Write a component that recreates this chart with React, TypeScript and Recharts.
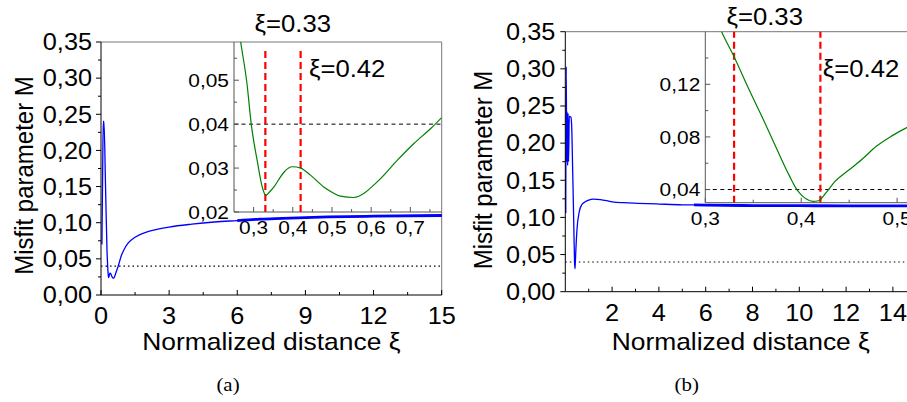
import React from 'react';
import { LineChart, Line, XAxis, YAxis, ReferenceLine } from 'recharts';

const SANS = '"Liberation Sans", Arial, Helvetica, sans-serif';
const SERIF = '"Liberation Serif", "Times New Roman", Times, serif';
const SX = 1.1; // horizontal stretch of the lettering in the reference

// ---------------- data: panel (a) ----------------
const mainXA = [0.04, 0.07, 0.1, 0.13, 0.2, 0.267, 0.294, 0.31, 0.331, 0.352, 0.378, 0.4, 0.42, 0.445, 0.48, 0.52, 0.556, 0.6, 0.667, 0.75, 0.9, 1.0, 1.2, 1.5, 2.0, 2.5, 3, 4, 5, 6, 7, 8, 10, 12, 15];
const mainMA = [0.07, 0.16, 0.24, 0.24, 0.15, 0.0587, 0.04, 0.031, 0.024, 0.0257, 0.0291, 0.0303, 0.03, 0.0284, 0.0256, 0.0237, 0.0233, 0.0256, 0.0318, 0.039, 0.055, 0.062, 0.072, 0.08, 0.087, 0.091, 0.094, 0.098, 0.101, 0.103, 0.105, 0.106, 0.108, 0.109, 0.11];
const insetXA = [0.255, 0.267, 0.283, 0.294, 0.309, 0.322, 0.331, 0.34, 0.352, 0.365, 0.378, 0.399, 0.42, 0.445, 0.479, 0.5, 0.522, 0.556, 0.581, 0.6, 0.624, 0.667, 0.709, 0.752, 0.78];
const insetMA = [0.066, 0.0587, 0.0493, 0.04, 0.0318, 0.0257, 0.0238, 0.0245, 0.0257, 0.0275, 0.0291, 0.0303, 0.03, 0.0284, 0.0257, 0.0245, 0.0236, 0.0233, 0.0242, 0.0256, 0.0276, 0.0318, 0.0356, 0.039, 0.0415];
const thickFromA = 5.8;

// ---------------- data: panel (b) ----------------
const mainXB = [0.02, 0.04, 0.06, 0.08, 0.1, 0.12, 0.14, 0.17, 0.24, 0.27, 0.317, 0.33, 0.36, 0.395, 0.412, 0.426, 0.45, 0.5, 0.6, 0.7, 0.85, 1.0, 1.2, 1.5, 2.0, 2.5, 3.1, 4, 5, 5.5, 6, 8, 10, 12, 15];
const mainMB = [0.106, 0.303, 0.175, 0.242, 0.17, 0.24, 0.175, 0.236, 0.235, 0.225, 0.16, 0.141, 0.094, 0.04, 0.031, 0.0376, 0.055, 0.084, 0.108, 0.117, 0.121, 0.1234, 0.1246, 0.124, 0.121, 0.1198, 0.119, 0.118, 0.117, 0.1168, 0.1165, 0.116, 0.1158, 0.1156, 0.1155];
const insetXB = [0.31, 0.317, 0.33, 0.345, 0.36, 0.375, 0.388, 0.395, 0.4, 0.405, 0.412, 0.418, 0.426, 0.435, 0.45, 0.465, 0.478, 0.495, 0.509, 0.525];
const insetMB = [0.172, 0.16, 0.141, 0.117, 0.094, 0.07, 0.05, 0.0405, 0.036, 0.033, 0.031, 0.0315, 0.0376, 0.046, 0.055, 0.064, 0.0727, 0.081, 0.0867, 0.092];
const thickFromB = 5.5;

// ---------------- shared ----------------
const criterion = 0.04;
const xiMarks = [0.33, 0.42];
const xiLabels = ['ξ=0.33', 'ξ=0.42'];

const mainYTicks = [0, 0.025, 0.05, 0.075, 0.1, 0.125, 0.15, 0.175, 0.2, 0.225, 0.25, 0.275, 0.3, 0.325, 0.35];
const mainYLabels = [0, 0.05, 0.1, 0.15, 0.2, 0.25, 0.3, 0.35];
const mainXTicksA = [0, 1.5, 3, 4.5, 6, 7.5, 9, 10.5, 12, 13.5, 15];
const mainXLabelsA = [0, 3, 6, 9, 12, 15];
const mainXTicksB = [1, 2, 3, 4, 5, 6, 7, 8, 9, 10, 11, 12, 13, 14, 15];
const mainXLabelsB = [2, 4, 6, 8, 10, 12, 14];
const insetYTicksA = [0.02, 0.025, 0.03, 0.035, 0.04, 0.045, 0.05, 0.055];
const insetYLabelsA = [0.02, 0.03, 0.04, 0.05];
const insetXTicksA = [0.3, 0.35, 0.4, 0.45, 0.5, 0.55, 0.6, 0.65, 0.7, 0.75];
const insetXLabelsA = [0.3, 0.4, 0.5, 0.6, 0.7];
const insetYTicksB = [0.04, 0.06, 0.08, 0.1, 0.12, 0.14];
const insetYLabelsB = [0.04, 0.08, 0.12];
const insetXTicksB = [0.3, 0.35, 0.4, 0.45, 0.5];
const insetXLabelsB = [0.3, 0.4, 0.5];

const toRows = (xs: number[], ys: number[]) => xs.map((x, i) => ({ x, m: ys[i] }));

type STProps = {
  x: number;
  y: number;
  size: number;
  anchor?: string;
  family?: string;
  dy?: string;
  sx?: number;
  rotate?: number;
  children: any;
};

function ST(p: STProps) {
  const tr = `translate(${p.x} ${p.y}) scale(${p.sx ?? SX} 1)${p.rotate ? ` rotate(${p.rotate})` : ''}`;
  return (
    <text transform={tr} x={0} y={0} dy={p.dy} textAnchor={(p.anchor || 'start') as any} fontFamily={p.family || SANS} fontSize={p.size} fill="#000">
      {p.children}
    </text>
  );
}

type TickOpts = {
  axis: 'x' | 'y';
  labels: number[];
  digits: number;
  major: number;
  minor: number;
  inward: boolean;
  gap: number;
  fontSize: number;
  color: string;
};

function tickRenderer(o: TickOpts) {
  return (props: any) => {
    const { x, y, payload } = props;
    const v = Number(payload.value);
    const isMajor = o.labels.some((l) => Math.abs(l - v) < 1e-9);
    const len = isMajor ? o.major : o.minor;
    const txt = v.toFixed(o.digits).replace('.', ',');
    if (o.axis === 'x') {
      const y2 = o.inward ? y - len : y + len;
      return (
        <g>
          <line x1={x} y1={y} x2={x} y2={y2} stroke={o.color} strokeWidth={1} />
          {isMajor ? (
            <ST x={x} y={y + o.gap} dy="0.72em" anchor="middle" size={o.fontSize}>
              {txt}
            </ST>
          ) : null}
        </g>
      );
    }
    const x2 = o.inward ? x + len : x - len;
    return (
      <g>
        <line x1={x} y1={y} x2={x2} y2={y} stroke={o.color} strokeWidth={1} />
        {isMajor ? (
          <ST x={x - o.gap} y={y} dy="0.36em" anchor="end" size={o.fontSize}>
            {txt}
          </ST>
        ) : null}
      </g>
    );
  };
}

const xiLabel = (text: string, dx: number, dy: number) => (props: any) => {
  const vb = props.viewBox || {};
  return (
    <ST x={vb.x + dx} y={vb.y + dy} size={24} sx={1.07}>
      {text}
    </ST>
  );
};

type TitleOpts = { titleDy: number; capDx: number; capDy: number; caption: string; yBx: number; yCy: number };

// axis titles + caption, placed relative to the x-axis box (plot left, plot bottom)
const titles = (o: TitleOpts) => (props: any) => {
  const vb = props.viewBox || {};
  return (
    <g>
      <ST x={vb.x + vb.width / 2} y={vb.y + o.titleDy} anchor="middle" size={24}>
        Normalized distance ξ
      </ST>
      <ST x={vb.x + o.capDx} y={vb.y + o.capDy} anchor="middle" size={19} family={SERIF}>
        {o.caption}
      </ST>
      <ST x={vb.x + o.yBx} y={vb.y + o.yCy} anchor="middle" size={24} rotate={-90}>
        Misfit parameter M
      </ST>
    </g>
  );
};

const rowsA = toRows(mainXA, mainMA);
const thickA = rowsA.filter((r) => r.x >= thickFromA);
const insetRowsA = toRows(insetXA, insetMA);
const rowsB = toRows(mainXB, mainMB);
const thickB = rowsB.filter((r) => r.x >= thickFromB);
const insetRowsB = toRows(insetXB, insetMB);

const BLUE = '#0000ff';
const GREEN = '#008000';
const RED = '#ff0000';
const FRAME = '#777777';
const INSET_AXIS = '#555555';

export default function App() {
  return (
    <div style={{ position: 'absolute', left: 0, top: 0, width: 907, height: 402, overflow: 'hidden', background: '#fff' }}>
      {/* ---------- panel (a) main ---------- */}
      <div style={{ position: 'absolute', left: 0, top: 0 }}>
        <LineChart width={460} height={402} data={rowsA} margin={{ top: 42, right: 18.3, bottom: 0, left: 0 }}>
          <XAxis
            type="number"
            dataKey="x"
            domain={[0, 15]}
            ticks={mainXTicksA}
            interval={0}
            tickSize={0}
            tickMargin={0}
            tickLine={false}
            axisLine={{ stroke: '#000' }}
            height={107}
            tick={tickRenderer({ axis: 'x', labels: mainXLabelsA, digits: 0, major: 5, minor: 3, inward: true, gap: 12, fontSize: 23, color: '#000' })}
            label={titles({ titleDy: 55, capDx: 127, capDy: 96, caption: '(a)', yBx: -68, yCy: -119.5 })}
          />
          <YAxis
            type="number"
            domain={[0, 0.35]}
            ticks={mainYTicks}
            interval={0}
            tickSize={0}
            tickMargin={0}
            tickLine={false}
            axisLine={{ stroke: '#000' }}
            width={101}
            tick={tickRenderer({ axis: 'y', labels: mainYLabels, digits: 2, major: 5, minor: 3, inward: false, gap: 9, fontSize: 23, color: '#000' })}
          />
          <ReferenceLine y={0.35} stroke={FRAME} strokeWidth={1} />
          <ReferenceLine x={15} stroke={FRAME} strokeWidth={1} />
          <ReferenceLine y={criterion} stroke="#000" strokeWidth={1.2} strokeDasharray="1.5 3" />
          <Line type="monotone" dataKey="m" stroke={BLUE} strokeWidth={1.3} dot={false} isAnimationActive={false} />
          <Line type="monotone" data={thickA} dataKey="m" stroke={BLUE} strokeWidth={2.8} dot={false} isAnimationActive={false} />
        </LineChart>
      </div>
      {/* ---------- panel (a) inset ---------- */}
      <div style={{ position: 'absolute', left: 0, top: 0 }}>
        <LineChart width={460} height={402} data={insetRowsA} margin={{ top: 42, right: 18.3, bottom: 0, left: 0 }}>
          <XAxis
            type="number"
            dataKey="x"
            domain={[0.25, 0.78]}
            allowDataOverflow
            ticks={insetXTicksA}
            interval={0}
            tickSize={0}
            tickMargin={0}
            tickLine={false}
            axisLine={{ stroke: INSET_AXIS }}
            height={190}
            tick={tickRenderer({ axis: 'x', labels: insetXLabelsA, digits: 1, major: 5, minor: 3, inward: true, gap: 8, fontSize: 19, color: INSET_AXIS })}
          />
          <YAxis
            type="number"
            domain={[0.02, 0.0587]}
            allowDataOverflow
            ticks={insetYTicksA}
            interval={0}
            tickSize={0}
            tickMargin={0}
            tickLine={false}
            axisLine={{ stroke: INSET_AXIS }}
            width={234}
            tick={tickRenderer({ axis: 'y', labels: insetYLabelsA, digits: 2, major: 5, minor: 3, inward: true, gap: 5, fontSize: 19, color: INSET_AXIS })}
          />
          <ReferenceLine y={criterion} stroke="#000" strokeWidth={1} strokeDasharray="4 3.5" />
          <ReferenceLine
            segment={[{ x: xiMarks[0], y: 0.02 }, { x: xiMarks[0], y: 0.0568 }]}
            stroke={RED}
            strokeWidth={2.2}
            strokeDasharray="7 4"
          />
          <ReferenceLine
            segment={[{ x: xiMarks[1], y: 0.02 }, { x: xiMarks[1], y: 0.0568 }]}
            stroke={RED}
            strokeWidth={2.2}
            strokeDasharray="7 4"
          />
          <ReferenceLine x={xiMarks[0]} stroke="none" label={xiLabel(xiLabels[0], -10.8, -10.3)} />
          <ReferenceLine x={xiMarks[1]} stroke="none" label={xiLabel(xiLabels[1], 8.3, 35.3)} />
          <Line type="monotone" dataKey="m" stroke={GREEN} strokeWidth={1.2} dot={false} isAnimationActive={false} />
        </LineChart>
      </div>
      {/* ---------- panel (b) main ---------- */}
      <div style={{ position: 'absolute', left: 455, top: 0 }}>
        <LineChart width={480} height={402} data={rowsB} margin={{ top: 31.7, right: 18.7, bottom: 0, left: 0 }}>
          <XAxis
            type="number"
            dataKey="x"
            domain={[0, 15]}
            ticks={mainXTicksB}
            interval={0}
            tickSize={0}
            tickMargin={0}
            tickLine={false}
            axisLine={{ stroke: '#000' }}
            height={110.3}
            tick={tickRenderer({ axis: 'x', labels: mainXLabelsB, digits: 0, major: 5, minor: 3, inward: true, gap: 13, fontSize: 23, color: '#000' })}
            label={titles({ titleDy: 58.3, capDx: 121.4, capDy: 99.3, caption: '(b)', yBx: -73.6, yCy: -121.7 })}
          />
          <YAxis
            type="number"
            domain={[0, 0.35]}
            ticks={mainYTicks}
            interval={0}
            tickSize={0}
            tickMargin={0}
            tickLine={false}
            axisLine={{ stroke: '#000' }}
            width={110.3}
            tick={tickRenderer({ axis: 'y', labels: mainYLabels, digits: 2, major: 5, minor: 3, inward: false, gap: 10, fontSize: 23, color: '#000' })}
          />
          <ReferenceLine y={0.35} stroke={FRAME} strokeWidth={1} />
          <ReferenceLine x={15} stroke={FRAME} strokeWidth={1} />
          <ReferenceLine y={criterion} stroke="#000" strokeWidth={1.2} strokeDasharray="1.5 3" />
          <Line type="monotone" dataKey="m" stroke={BLUE} strokeWidth={1.3} dot={false} isAnimationActive={false} />
          <Line type="monotone" data={thickB} dataKey="m" stroke={BLUE} strokeWidth={2.8} dot={false} isAnimationActive={false} />
        </LineChart>
      </div>
      {/* ---------- panel (b) inset ---------- */}
      <div style={{ position: 'absolute', left: 455, top: 0 }}>
        <LineChart width={480} height={402} data={insetRowsB} margin={{ top: 31.7, right: 18.7, bottom: 0, left: 0 }}>
          <XAxis
            type="number"
            dataKey="x"
            domain={[0.3, 0.52]}
            allowDataOverflow
            ticks={insetXTicksB}
            interval={0}
            tickSize={0}
            tickMargin={0}
            tickLine={false}
            axisLine={{ stroke: INSET_AXIS }}
            height={199.3}
            tick={tickRenderer({ axis: 'x', labels: insetXLabelsB, digits: 1, major: 5, minor: 3, inward: true, gap: 9, fontSize: 19, color: INSET_AXIS })}
          />
          <YAxis
            type="number"
            domain={[0.03, 0.16]}
            allowDataOverflow
            ticks={insetYTicksB}
            interval={0}
            tickSize={0}
            tickMargin={0}
            tickLine={false}
            axisLine={{ stroke: INSET_AXIS }}
            width={250.3}
            tick={tickRenderer({ axis: 'y', labels: insetYLabelsB, digits: 2, major: 5, minor: 3, inward: true, gap: 5, fontSize: 19, color: INSET_AXIS })}
          />
          <ReferenceLine y={criterion} stroke="#000" strokeWidth={1} strokeDasharray="4 3.5" />
          <ReferenceLine x={xiMarks[0]} stroke={RED} strokeWidth={2.2} strokeDasharray="7 4" label={xiLabel(xiLabels[0], -7.6, -6.7)} />
          <ReferenceLine x={xiMarks[1]} stroke={RED} strokeWidth={2.2} strokeDasharray="7 4" label={xiLabel(xiLabels[1], 2.4, 45.6)} />
          <Line type="monotone" dataKey="m" stroke={GREEN} strokeWidth={1.2} dot={false} isAnimationActive={false} />
        </LineChart>
      </div>
    </div>
  );
}
